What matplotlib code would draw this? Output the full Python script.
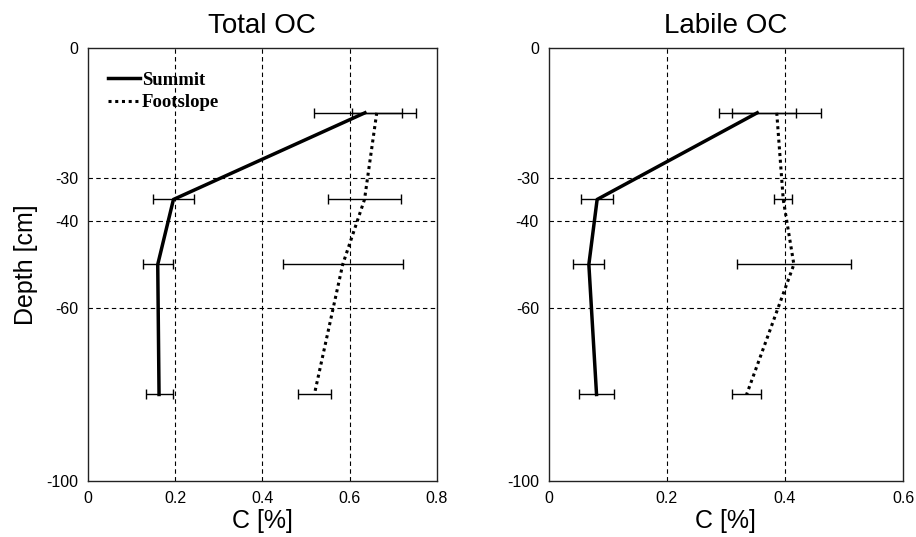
import matplotlib.pyplot as plt
import numpy as np

plt.rcParams['font.family'] = 'Liberation Sans'
plt.rcParams['axes.unicode_minus'] = False

# depth of samples [cm]
depth = [-15, -35, -50, -80]

# Total OC [%]
tot_summit = [0.635, 0.196, 0.160, 0.163]
tot_summit_err = [0.117, 0.046, 0.034, 0.031]
tot_foot = [0.662, 0.634, 0.584, 0.519]
tot_foot_err = [0.057, 0.083, 0.138, 0.038]

# Labile OC [%]
lab_summit = [0.353, 0.082, 0.068, 0.081]
lab_summit_err = [0.065, 0.027, 0.026, 0.030]
lab_foot = [0.386, 0.397, 0.415, 0.335]
lab_foot_err = [0.075, 0.015, 0.097, 0.025]

yticks = [0, -30, -40, -60, -100]

fig = plt.figure(figsize=(9.16, 5.37), dpi=100)
ax1 = fig.add_axes([0.096, 0.104, 0.381, 0.807])
ax2 = fig.add_axes([0.599, 0.104, 0.387, 0.807])


def pannello(ax, xs, xse, xf, xfe, xmax, xticks, titolo):
    ax.errorbar(xs, depth, xerr=xse, fmt='none', ecolor='black',
                elinewidth=1, capsize=3.5, capthick=1, zorder=3)
    ax.errorbar(xf, depth, xerr=xfe, fmt='none', ecolor='black',
                elinewidth=1, capsize=3.5, capthick=1, zorder=3)
    ls, = ax.plot(xs, depth, '-', color='black', linewidth=2.5, zorder=4)
    lf, = ax.plot(xf, depth, color='black', linewidth=2.2,
                  linestyle=(0, (1, 1.2)), zorder=4)
    ax.set_xlim(0, xmax)
    ax.set_ylim(-100, 0)
    ax.set_xticks(xticks)
    ax.set_xticklabels([('%g' % t) for t in xticks])
    ax.set_yticks(yticks)
    ax.tick_params(length=0, labelsize=11.5, pad=7)
    for t in xticks[1:-1]:
        ax.axvline(t, color='black', linestyle=(0, (4, 3)), linewidth=0.8, zorder=1)
    for t in yticks[1:-1]:
        ax.axhline(t, color='black', linestyle=(0, (4, 3)), linewidth=0.8, zorder=1)
    for s in ax.spines.values():
        s.set_linewidth(1.0)
        s.set_color('#222222')
    ax.set_title(titolo, fontsize=20, pad=11)
    ax.set_xlabel('C [%]', fontsize=18, labelpad=2)
    return ls, lf


ls, lf = pannello(ax1, tot_summit, tot_summit_err, tot_foot, tot_foot_err,
                  0.8, [0, 0.2, 0.4, 0.6, 0.8], 'Total OC')
pannello(ax2, lab_summit, lab_summit_err, lab_foot, lab_foot_err,
         0.6, [0, 0.2, 0.4, 0.6], 'Labile OC')

ax1.set_ylabel('Depth [cm]', fontsize=18, labelpad=6)

ax1.legend((ls, lf), ('Summit', 'Footslope'), loc='upper left',
           bbox_to_anchor=(0.057, 0.945), frameon=False,
           handlelength=1.7, handletextpad=0.1, borderpad=0,
           borderaxespad=0, labelspacing=0.28,
           prop={'family': 'Liberation Serif', 'weight': 'bold', 'size': 13.5})

fig.savefig('out.png', dpi=100)
